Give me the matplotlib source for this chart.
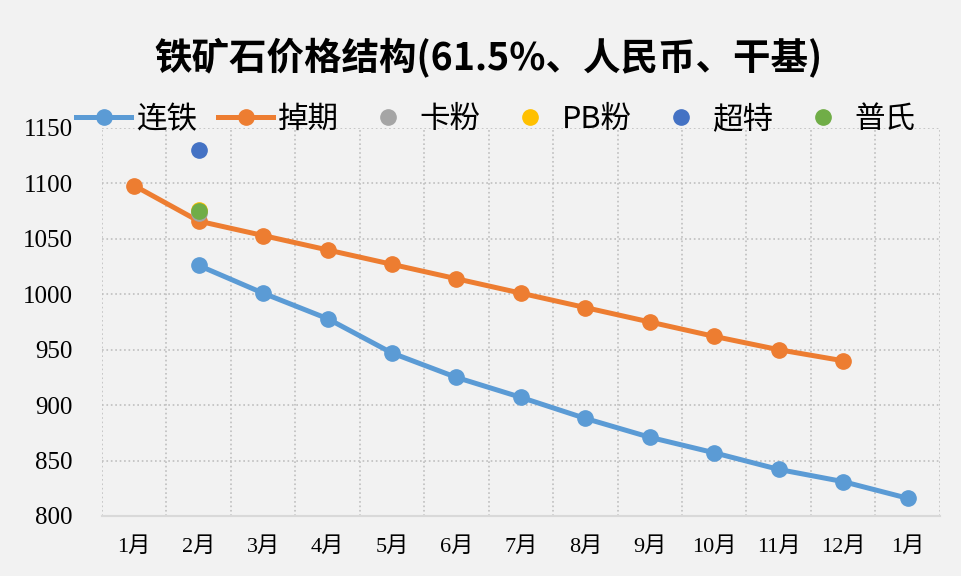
import numpy as np
import matplotlib.pyplot as plt

plt.rcParams['font.family'] = ['Noto Sans CJK SC', 'DejaVu Sans']

months = ['1月', '2月', '3月', '4月', '5月', '6月', '7月',
          '8月', '9月', '10月', '11月', '12月', '1月']
lian_tie = [np.nan, 1026, 1001, 978, 947, 925, 907, 888, 871, 857, 842, 831, 816]
diao_qi = [1098, 1066, 1053, 1040, 1027, 1014, 1001, 988, 975, 962, 950, 940, np.nan]
y_ticks = [800, 850, 900, 950, 1000, 1050, 1100, 1150]

# single points at 2月
ka_fen = 1073
pb_fen = 1076
chao_te = 1130
pu_shi = 1075

bg = '#F2F2F2'
serif = ['Liberation Serif', 'Noto Sans CJK SC']
fig = plt.figure(figsize=(9.61, 5.76), dpi=100, facecolor=bg)
ax = fig.add_axes([0.1061, 0.1042, 0.8719, 0.6736], facecolor=bg)

x = np.arange(len(months))
ax.plot(x, lian_tie, color='#5B9BD5', lw=3.6, marker='o', ms=11, label='连铁', zorder=3)
ax.plot(x, diao_qi, color='#ED7D31', lw=3.6, marker='o', ms=11, label='掉期', zorder=3)
ax.plot([1], [ka_fen], ls='none', marker='o', ms=11, color='#A5A5A5', label='卡粉', zorder=4)
ax.plot([1], [pb_fen], ls='none', marker='o', ms=11, color='#FFC000', label='PB粉', zorder=4)
ax.plot([1], [chao_te], ls='none', marker='o', ms=11, color='#4472C4', label='超特', zorder=4)
ax.plot([1], [pu_shi], ls='none', marker='o', ms=11, color='#70AD47', label='普氏', zorder=5)

ax.set_xlim(-0.5, len(months) - 0.5)
ax.set_ylim(800, 1150)
ax.set_yticks(y_ticks)
ax.set_yticklabels([str(v) for v in y_ticks], family=serif, fontsize=18)
ax.set_xticks(x)
ax.set_xticklabels(months, family=serif, fontsize=16)
ax.set_xticks(np.arange(-0.5, len(months)), minor=True)
ax.tick_params(axis='both', which='both', length=0)
ax.tick_params(axis='x', pad=15)
ax.tick_params(axis='y', pad=21)

ax.grid(True, axis='y', which='major', ls=':', color='#BFBFBF', lw=1.2)
ax.grid(True, axis='x', which='minor', ls=':', color='#BFBFBF', lw=1.2)
ax.grid(False, axis='x', which='major')
for s in ['top', 'left', 'right']:
    ax.spines[s].set_visible(False)
ax.spines['bottom'].set_color('#D9D9D9')
ax.spines['bottom'].set_linewidth(1.5)

fig.text(0.508, 0.9, '铁矿石价格结构(61.5%、人民币、干基)', ha='center', va='center',
         fontsize=27, fontweight='bold')
fig.legend(loc='center', bbox_to_anchor=(0.516, 0.793), ncol=6, frameon=False,
           fontsize=22, handlelength=1.8, columnspacing=0.7, handletextpad=0.15)

fig.savefig('out.png', dpi=100, facecolor=bg)
